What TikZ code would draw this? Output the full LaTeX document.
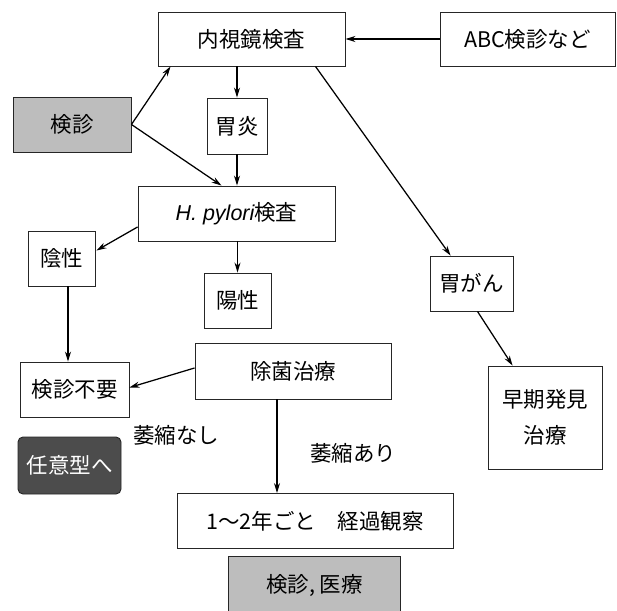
\documentclass[tikz,border=0pt]{standalone}
\usepackage{fontspec}
\setmainfont{Noto Sans CJK JP}
\newfontfamily\latinit{Liberation Sans Italic}
\usetikzlibrary{arrows.meta,calc}
\tikzset{
  box/.style={draw=black!85,line width=0.9pt,fill=white,inner sep=0pt,align=center,font=\fontsize{21.5}{30}\selectfont},
  graybox/.style={box,fill=black!26},
  darkbox/.style={box,fill=black!70,rounded corners=5pt,text=white},
  lbl/.style={inner sep=0pt,font=\fontsize{21.5}{24}\selectfont},
  arr/.style={line width=1.25pt,-{Stealth[length=10pt,width=6pt]}},
}
\begin{document}
\begin{tikzpicture}[x=1pt,y=-1pt]
\useasboundingbox (0,0) rectangle (617,610);
\node[box,minimum width=187pt,minimum height=54pt] (endo) at (251.5,39) {内視鏡検査};
\node[box,minimum width=175pt,minimum height=54pt] (abc) at (527.5,39) {ABC検診など};
\node[graybox,minimum width=118pt,minimum height=55pt] (ken) at (72,124.5) {検診};
\node[box,minimum width=60pt,minimum height=56pt] (ien) at (237,126) {胃炎};
\node[box,minimum width=197pt,minimum height=55pt] (hp) at (236.5,213.5) {{\latinit H. pylori}検査};
\node[box,minimum width=67pt,minimum height=55pt] (insei) at (61.5,258.5) {陰性};
\node[box,minimum width=67pt,minimum height=55pt] (yousei) at (237.5,300.5) {陽性};
\node[box,minimum width=83pt,minimum height=55pt] (igan) at (471.5,283.5) {胃がん};
\node[box,minimum width=109pt,minimum height=55pt] (fuyou) at (74.5,389.5) {検診不要};
\node[box,minimum width=114pt,minimum height=103pt,font=\fontsize{21.5}{36}\selectfont] (souki) at (545,417.5) {早期発見\\治療};
\node[box,minimum width=196pt,minimum height=56pt] (joukin) at (293,371) {除菌治療};
\node[darkbox,minimum width=103pt,minimum height=57pt] (nini) at (69.5,465.5) {任意型へ};
\node[box,minimum width=276pt,minimum height=55pt] (keika) at (315,521) {1～2年ごと\hspace{1em}経過観察};
\node[graybox,minimum width=172pt,minimum height=60pt] (iryou) at (314.5,586) {検診, 医療};
\node[lbl] (nashi) at (176,435) {萎縮なし};
\node[lbl] (ari) at (353,453) {萎縮あり};
% connectors
\draw[arr] (abc.west) -- (endo.east);
\draw[arr] (ken.east) -- ($(endo.south west)+(13,0)$);
\draw[arr] (ken.east) -- ($(hp.north)+(-15,0)$);
\draw[arr] (ien.north |- endo.south) -- (ien.north);
\draw[arr] (ien.south) -- (ien.south |- hp.north);
\draw[arr] ($(hp.west)+(0,13.5)$) -- ($(insei.east)+(1,-8)$);
\draw[arr] (yousei.north |- hp.south) -- (yousei.north);
\draw[arr] ($(endo.south)+(64,0)$) -- ($(igan.north west)+(21,0)$);
\draw[arr] ($(igan.south)+(6,0)$) -- ($(souki.north west)+(25,0)$);
\coordinate (a) at ($(insei.south)+(6.5,0)$);
\draw[arr] (a) -- (a |- fuyou.north);
\draw[arr] ($(joukin.west)+(0,-3)$) -- ($(fuyou.east)+(0,-2)$);
\coordinate (b) at ($(joukin.south)+(-16,0)$);
\draw[arr] (b) -- (b |- keika.north);
\end{tikzpicture}
\end{document}
